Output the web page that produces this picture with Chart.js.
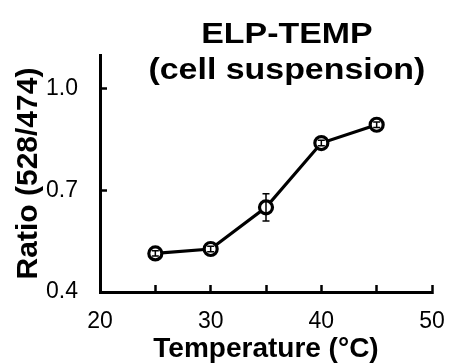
<!DOCTYPE html>
<html>
<head>
<meta charset="utf-8">
<script src="https://cdn.jsdelivr.net/npm/chart.js@4"></script>
<style>
  html, body { margin: 0; padding: 0; background: #fff; }
</style>
</head>
<body>
<canvas id="chart" width="449" height="363"></canvas>
<script>
// data
const temps = [25, 30, 35, 40, 45];
const ratios = [0.514, 0.527, 0.650, 0.840, 0.894];
const errors = [0.008, 0.008, 0.040, 0.008, 0.008];
const xTicks = [20, 25, 30, 35, 40, 45, 50];
const xLabels = [20, 30, 40, 50];
const yTicks = [0.4, 0.7, 1.0];
const titleLines = ['ELP-TEMP', '(cell suspension)'];

const FONT = "Arial, 'Liberation Sans', Helvetica, sans-serif";

// error bars, drawn through the scales
const errorBars = {
    id: 'errorBars',
    afterDatasetsDraw(chart) {
        const {ctx, scales: {x, y}} = chart;
        ctx.save();
        ctx.strokeStyle = '#000';
        ctx.lineWidth = 1.5;
        temps.forEach((t, i) => {
            const px = x.getPixelForValue(t);
            const top = y.getPixelForValue(ratios[i] + errors[i]);
            const bot = y.getPixelForValue(ratios[i] - errors[i]);
            ctx.beginPath();
            ctx.moveTo(px, top); ctx.lineTo(px, bot);
            ctx.moveTo(px - 3.5, top); ctx.lineTo(px + 3.5, top);
            ctx.moveTo(px - 3.5, bot); ctx.lineTo(px + 3.5, bot);
            ctx.stroke();
        });
        ctx.restore();
    }
};

// two-line title sitting over the plot, right of centre, slightly wide lettering
const plotTitle = {
    id: 'plotTitle',
    afterDraw(chart) {
        const {ctx, chartArea} = chart;
        const cx = chartArea.left + (chartArea.right - chartArea.left) * 0.563;
        const sx = 1.13;
        ctx.save();
        ctx.fillStyle = '#000';
        ctx.font = `bold 30px ${FONT}`;
        ctx.textAlign = 'center';
        ctx.textBaseline = 'alphabetic';
        ctx.translate(cx, 0);
        ctx.scale(sx, 1);
        ctx.fillText(titleLines[0], 0, 43);
        ctx.fillText(titleLines[1], 0, 79);
        ctx.restore();
    }
};

new Chart(document.getElementById('chart'), {
    type: 'line',
    data: {
        datasets: [{
            data: temps.map((t, i) => ({x: t, y: ratios[i]})),
            borderColor: '#000',
            borderWidth: 3.2,
            pointRadius: 6.5,
            pointBorderWidth: 3.2,
            pointBackgroundColor: '#fff',
            pointBorderColor: '#000',
            tension: 0
        }]
    },
    options: {
        responsive: false,
        animation: false,
        layout: { padding: { top: 55, right: 17, left: 0, bottom: 0 } },
        plugins: {
            legend: { display: false },
            tooltip: { enabled: false },
            title: { display: false }
        },
        scales: {
            x: {
                type: 'linear',
                min: 20,
                max: 50,
                afterBuildTicks: scale => { scale.ticks = xTicks.map(v => ({value: v})); },
                afterFit: scale => {
                    scale.height = 71;
                    scale.paddingLeft = 0;
                    scale.paddingRight = 0;
                },
                border: { color: '#000', width: 3 },
                grid: { drawOnChartArea: false, tickLength: -7, tickWidth: 2.5, tickColor: '#000' },
                ticks: {
                    color: '#000',
                    font: { family: FONT, size: 23 },
                    padding: 23,
                    maxRotation: 0,
                    autoSkip: false,
                    callback: v => xLabels.includes(v) ? String(v) : ''
                },
                title: {
                    display: true,
                    text: 'Temperature (°C)',
                    color: '#000',
                    font: { family: FONT, size: 28, weight: 'bold', lineHeight: 1 },
                    padding: 0
                }
            },
            y: {
                min: 0.4,
                max: 1.1,
                afterBuildTicks: scale => { scale.ticks = yTicks.map(v => ({value: v})); },
                afterFit: scale => {
                    scale.width = 100;
                    scale.paddingTop = 0;
                    scale.paddingBottom = 0;
                },
                border: { color: '#000', width: 3 },
                grid: { drawOnChartArea: false, tickLength: -7, tickWidth: 2.5, tickColor: '#000' },
                ticks: {
                    color: '#000',
                    font: { family: FONT, size: 23 },
                    padding: 29,
                    callback: v => v.toFixed(1)
                },
                title: {
                    display: true,
                    text: 'Ratio (528/474)',
                    color: '#000',
                    font: { family: FONT, size: 30, weight: 'bold', lineHeight: 1 },
                    padding: { top: 14 }
                }
            }
        }
    },
    plugins: [errorBars, plotTitle]
});
</script>
</body>
</html>
